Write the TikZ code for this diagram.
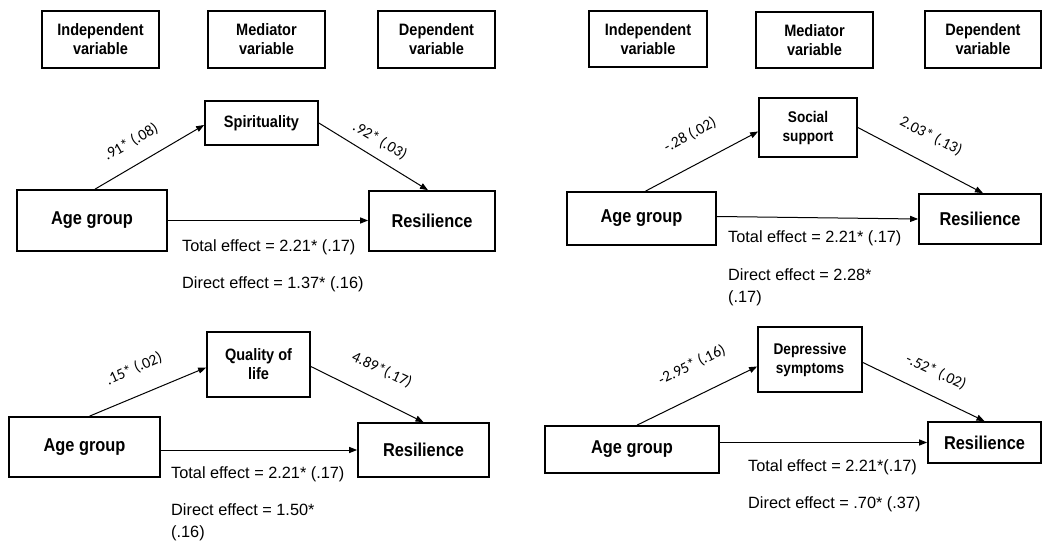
\documentclass[tikz,border=0pt]{standalone}
\usepackage{fontspec}
\setmainfont{Liberation Sans}
\newfontfamily\boxfont[FakeStretch=0.88]{Liberation Sans}
\newfontfamily\lblfont{Carlito}
\usetikzlibrary{arrows.meta}
\begin{document}
\begin{tikzpicture}[x=1pt,y=-1pt,
  box/.style={draw, line width=1.7pt, inner sep=0pt, align=center,
    font=\boxfont\bfseries\fontsize{16.5}{19}\selectfont},
  sz/.style 2 args={minimum width=#1pt, minimum height=#2pt},
  big/.style={font=\boxfont\bfseries\fontsize{18.6}{21}\selectfont},
  med/.style={font=\boxfont\bfseries\fontsize{15.5}{19}\selectfont},
  conn/.style={line width=1pt, -{Triangle[length=8pt,width=6pt]}},
  lbl/.style={font=\lblfont\fontsize{15.5}{17}\selectfont, inner sep=0pt},
  eff/.style={font=\fontsize{16.3}{22}\selectfont, inner sep=0pt, anchor=west, align=left}
]
\useasboundingbox (0,0) rectangle (1042,545);

% ---------- headers ----------
\node[box, sz={117}{57}] (h1) at (100.5,39.5) {Independent\\variable};
\node[box, sz={117}{57}] (h2) at (266.5,39.5) {Mediator\\variable};
\node[box, sz={117}{57}] (h3) at (436.5,39.5) {Dependent\\variable};
\node[box, sz={118}{56}] (h4) at (648,39) {Independent\\variable};
\node[box, sz={117}{56}] (h5) at (814.5,40) {Mediator\\variable};
\node[box, sz={116}{57}] (h6) at (983,39.5) {Dependent\\variable};

% ---------- top left ----------
\node[box, sz={113}{44}] (spir) at (261.5,123) {Spirituality};
\node[box, big, sz={150}{61}] (ageTL) at (92,220.5) {Age group};
\node[box, big, sz={126}{60}] (resTL) at (432,221) {Resilience};
\draw[conn] ([xshift=3pt]ageTL.north) -- ([yshift=-2pt]spir.west);
\draw[conn] (spir.east) -- ([xshift=-4pt]resTL.north);
\draw[conn] (ageTL.east) -- (ageTL.east -| resTL.west);
\node[lbl, rotate=30] (l1) at (131,142) {.91* (.08)};
\node[lbl, rotate=-31] (l2) at (380,141) {.92* (.03)};
\node[eff] (t1) at (182,247) {Total effect = 2.21* (.17)};
\node[eff] (d1) at (182,284) {Direct effect = 1.37* (.16)};

% ---------- top right ----------
\node[box, med, sz={98}{59}] (soc) at (808,127.5) {Social\\support};
\node[box, big, sz={149}{53}] (ageTR) at (641.5,218.5) {Age group};
\node[box, big, sz={122}{50}] (resTR) at (980,219) {Resilience};
\draw[conn] ([xshift=4pt]ageTR.north) -- ([yshift=-4pt]soc.west);
\draw[conn] (soc.east) -- ([xshift=3pt]resTR.north);
\draw[conn] ([yshift=2pt]ageTR.east) -- (resTR.west);
\node[lbl, rotate=28] (l3) at (690,135) {-.28 (.02)};
\node[lbl, rotate=-27] (l4) at (931,136) {2.03* (.13)};
\node[eff] (t2) at (728,238) {Total effect = 2.21* (.17)};
\node[eff] (d2) at (728,287) {Direct effect = 2.28*\\(.17)};

% ---------- bottom left ----------
\node[box, sz={103}{65}] (qual) at (258.5,364.5) {Quality of\\life};
\node[box, big, sz={151}{60}] (ageBL) at (84.5,447) {Age group};
\node[box, big, sz={131}{54}] (resBL) at (423.5,450) {Resilience};
\draw[conn] ([xshift=5pt]ageBL.north) -- ([yshift=-3pt]qual.west);
\draw[conn] ([yshift=-2pt]qual.east) -- (resBL.north);
\draw[conn] (ageBL.east |- resBL.west) -- (resBL.west);
\node[lbl, rotate=24] (l5) at (134,369) {.15* (.02)};
\node[lbl, rotate=-25] (l6) at (382,370) {4.89*(.17)};
\node[eff] (t3) at (171,474) {Total effect = 2.21* (.17)};
\node[eff] (d3) at (171,522) {Direct effect = 1.50*\\(.16)};

% ---------- bottom right ----------
\node[box, med, sz={104}{65}] (dep) at (810,359.5) {Depressive\\symptoms};
\node[box, big, sz={174}{47}] (ageBR) at (632,449.5) {Age group};
\node[box, big, sz={113}{41}] (resBR) at (984.5,442.5) {Resilience};
\draw[conn] ([xshift=5pt]ageBR.north) -- ([yshift=-7pt]dep.west);
\draw[conn] ([yshift=-3pt]dep.east) -- (resBR.north);
\draw[conn] (ageBR.east |- resBR.west) -- (resBR.west);
\node[lbl, rotate=26] (l7) at (692,365) {-2.95* (.16)};
\node[lbl, rotate=-25] (l8) at (936,372) {-.52* (.02)};
\node[eff] (t4) at (748,467) {Total effect = 2.21*(.17)};
\node[eff] (d4) at (748,504) {Direct effect = .70* (.37)};
\end{tikzpicture}
\end{document}
